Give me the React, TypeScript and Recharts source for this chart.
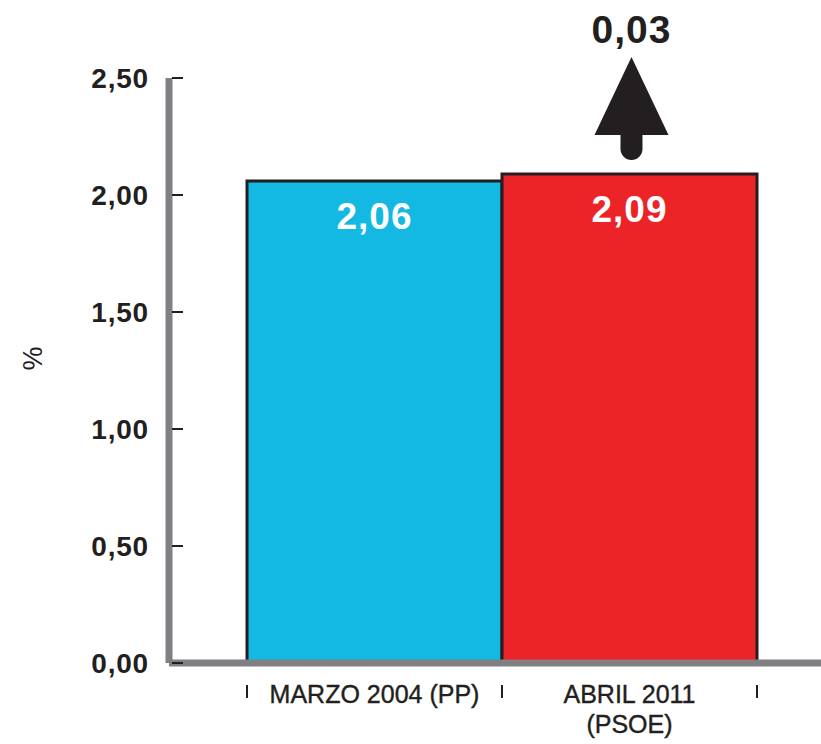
import { BarChart, Bar, XAxis, YAxis, Cell, LabelList } from "recharts";

// categories (line-broken as on the original axis) and values, in %
const categories = ["MARZO 2004 (PP)", "ABRIL 2011 (PSOE)"];
const categoryLines = [["MARZO 2004 (PP)"], ["ABRIL 2011", "(PSOE)"]];
const values = [2.06, 2.09];
const barColors = ["#13B8E3", "#EC2327"];
const yTicks = [0, 0.5, 1, 1.5, 2, 2.5];

const chartData = categories.map((name, i) => ({
  name,
  value: values[i],
  lines: categoryLines[i],
}));

const fmt = (v: number) => v.toFixed(2).replace(".", ",");
const change = fmt(values[1] - values[0]);

const axisGray = "#808084";
const ink = "#231F20";
const HALF_BAND = 127.5;

const YTick = ({ x, y, payload }: any) => (
  <g>
    <line x1={x + 3} x2={x + 14} y1={y} y2={y} stroke={ink} strokeWidth={2} />
    <text
      x={x - 20}
      y={y}
      dy={10}
      textAnchor="end"
      fontFamily="Liberation Sans, Arial, sans-serif"
      fontWeight="bold"
      fontSize={28}
      letterSpacing={0.8}
      fill={ink}
    >
      {fmt(payload.value)}
    </text>
  </g>
);

const XTick = ({ x, y, index }: any) => {
  const lines = categoryLines[index] || [];
  return (
    <g>
      <line x1={x - HALF_BAND} x2={x - HALF_BAND} y1={y + 22} y2={y + 35} stroke={ink} strokeWidth={2} />
      {index === categories.length - 1 && (
        <line x1={x + HALF_BAND} x2={x + HALF_BAND} y1={y + 22} y2={y + 35} stroke={ink} strokeWidth={2} />
      )}
      {lines.map((t: string, i: number) => (
        <text
          key={i}
          x={x}
          y={y + 40 + i * 30}
          textAnchor="middle"
          fontFamily="Liberation Sans Narrow, Arial Narrow, sans-serif"
          fontSize={25}
          stroke={ink}
          strokeWidth={0.4}
          fill={ink}
        >
          {t}
        </text>
      ))}
    </g>
  );
};

const ValueLabel = ({ x, y, width, value }: any) => (
  <text
    x={x + width / 2}
    y={y + 48}
    textAnchor="middle"
    fontFamily="Liberation Sans, Arial, sans-serif"
    fontWeight="bold"
    fontSize={37}
    letterSpacing={1}
    fill="#ffffff"
  >
    {fmt(value)}
  </text>
);

// upward arrow with the change, above the last bar
const ChangeArrow = ({ x, y, width, index }: any) => {
  if (index !== values.length - 1) return null;
  const cx = x + width / 2 + 2;
  const bottom = y - 14;
  return (
    <g>
      <path
        d={`M ${cx} ${bottom - 103} L ${cx + 37} ${bottom - 25} L ${cx + 11} ${bottom - 25} L ${cx + 11} ${bottom - 11} A 11 11 0 0 1 ${cx - 11} ${bottom - 11} L ${cx - 11} ${bottom - 25} L ${cx - 37} ${bottom - 25} Z`}
        fill={ink}
      />
      <text
        x={cx}
        y={bottom - 117}
        textAnchor="middle"
        fontFamily="Liberation Sans, Arial, sans-serif"
        fontWeight="bold"
        fontSize={39}
        letterSpacing={1}
        fill={ink}
      >
        {change}
      </text>
    </g>
  );
};

export default function App() {
  return (
    <div style={{ position: "absolute", left: 0, top: 0, background: "#fff" }}>
      <BarChart
        width={821}
        height={744}
        data={chartData}
        margin={{ top: 78, right: 0, bottom: 11, left: 0 }}
        barCategoryGap={0}
      >
        <XAxis
          dataKey="name"
          height={70}
          padding={{ left: 78, right: 64 }}
          axisLine={{ stroke: axisGray, strokeWidth: 7 }}
          tickLine={false}
          tickSize={0}
          tickMargin={0}
          interval={0}
          tick={<XTick />}
        />
        <YAxis
          width={169}
          domain={[0, 2.5]}
          ticks={yTicks}
          axisLine={{ stroke: axisGray, strokeWidth: 7 }}
          tickLine={false}
          tickSize={0}
          tickMargin={0}
          tick={<YTick />}
          label={{
            value: "%",
            angle: -90,
            position: "insideLeft",
            offset: 32,
            style: { fontFamily: "Liberation Sans, Arial, sans-serif", fontSize: 27, fill: ink },
          }}
        />
        <Bar dataKey="value" stroke={ink} strokeWidth={3} isAnimationActive={false}>
          {chartData.map((d, i) => (
            <Cell key={d.name} fill={barColors[i]} />
          ))}
          <LabelList dataKey="value" content={<ValueLabel />} />
          <LabelList dataKey="value" content={<ChangeArrow />} />
        </Bar>
      </BarChart>
    </div>
  );
}
